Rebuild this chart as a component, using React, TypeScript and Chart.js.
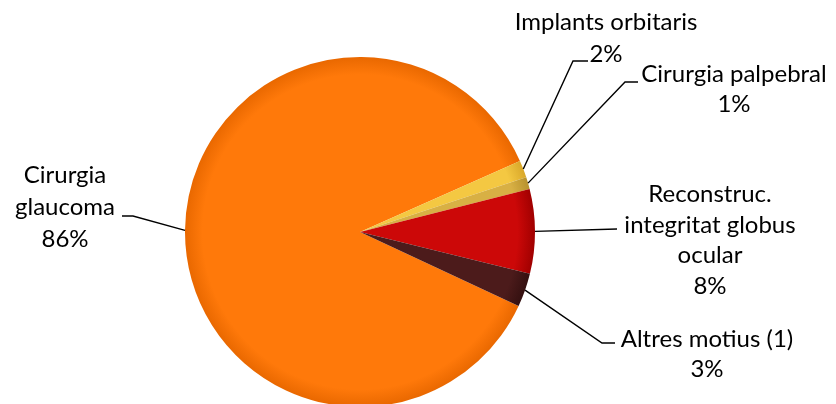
import React, { useEffect, useRef } from "react";
import { Chart, registerables } from "chart.js";

Chart.register(...registerables);

// ---- data ----
const categories = [
  "Cirurgia glaucoma",
  "Implants orbitaris",
  "Cirurgia palpebral",
  "Reconstruc. integritat globus ocular",
  "Altres motius (1)",
];
const labelLines = [
  ["Cirurgia", "glaucoma"],
  ["Implants orbitaris"],
  ["Cirurgia palpebral"],
  ["Reconstruc.", "integritat globus", "ocular"],
  ["Altres motius (1)"],
];
const values = [86.4, 1.6, 1.1, 7.8, 3.1];
const percentLabels = ["86%", "2%", "1%", "8%", "3%"];
const colors = ["#FF790A", "#F4C842", "#D8B044", "#CC0808", "#4C1B1B"];
const rimColors = ["#E96800", "#D9A82A", "#B8922E", "#A00000", "#341010"];

// ---- label layout (text centre x, first baseline, line height, leader elbow & end) ----
const labelLayout = [
  { cx: 65, y0: 183, lh: 32, elbow: [133, 216], end: [122, 216] },
  { cx: 606, y0: 30, lh: 32, elbow: [573, 61], end: [588, 61] },
  { cx: 734, y0: 82, lh: 30, elbow: [625, 82], end: [638, 82] },
  { cx: 710, y0: 202, lh: 30.5, elbow: null, end: [617, 229] },
  { cx: 707, y0: 347, lh: 30, elbow: [602, 343], end: [615, 343] },
];
const FONT = "24px Lato, 'Open Sans', sans-serif";

const labelPlugin = {
  id: "pieLabels",
  afterDatasetsDraw(chart: any) {
    const ctx = chart.ctx;
    const meta = chart.getDatasetMeta(0);
    ctx.save();
    ctx.strokeStyle = "#000";
    ctx.lineWidth = 1.4;
    ctx.fillStyle = "#000";
    ctx.font = FONT;
    ctx.textAlign = "center";
    ctx.textBaseline = "alphabetic";
    meta.data.forEach((arc: any, i: number) => {
      const p = arc.getProps(["x", "y", "startAngle", "endAngle", "outerRadius"], true);
      const mid = (p.startAngle + p.endAngle) / 2;
      const ax = p.x + Math.cos(mid) * p.outerRadius;
      const ay = p.y + Math.sin(mid) * p.outerRadius;
      const L = labelLayout[i];
      ctx.beginPath();
      ctx.moveTo(ax, ay);
      if (L.elbow) ctx.lineTo(L.elbow[0], L.elbow[1]);
      ctx.lineTo(L.end[0], L.end[1]);
      ctx.stroke();
      const lines = [...labelLines[i], percentLabels[i]];
      lines.forEach((t, k) => {
        ctx.fillText(t, L.cx, L.y0 + k * L.lh);
      });
    });
    ctx.restore();
  },
};

export default function App() {
  const ref = useRef<HTMLCanvasElement | null>(null);
  useEffect(() => {
    document.body.style.margin = "0";
    const canvas = ref.current!;
    const chart = new Chart(canvas, {
      type: "pie",
      data: {
        labels: categories,
        datasets: [
          {
            data: values,
            backgroundColor: (c: any) => {
              const ch = c.chart;
              const a = ch.chartArea;
              const i = c.dataIndex;
              if (!a || i === undefined) return colors[i ?? 0];
              const cx = (a.left + a.right) / 2;
              const cy = (a.top + a.bottom) / 2;
              const r = Math.min(a.right - a.left, a.bottom - a.top) / 2;
              const g = ch.ctx.createRadialGradient(cx, cy, 0, cx, cy, r);
              g.addColorStop(0, colors[i]);
              g.addColorStop(0.9, colors[i]);
              g.addColorStop(1, rimColors[i]);
              return g;
            },
            borderWidth: 0,
          },
        ],
      },
      options: {
        responsive: false,
        animation: false,
        rotation: 115,
        layout: { padding: { left: 185, right: 301, top: 57, bottom: 57 } },
        plugins: {
          legend: { display: false },
          tooltip: { enabled: false },
        },
      },
      plugins: [labelPlugin],
    });
    return () => chart.destroy();
  }, []);
  return (
    <div style={{ width: 836, height: 404, overflow: "hidden", position: "relative", background: "#fff" }}>
      <canvas ref={ref} width={836} height={464} style={{ display: "block" }} />
    </div>
  );
}
